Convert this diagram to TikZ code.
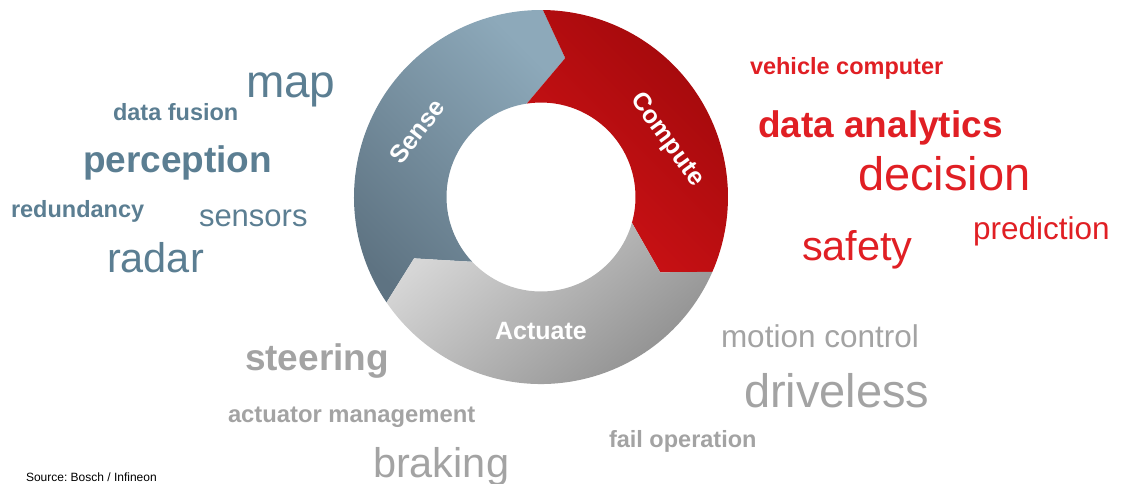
\documentclass[tikz,border=0pt]{standalone}
\usepackage{fontspec}
\setmainfont{Liberation Sans}
\frenchspacing
\definecolor{tblue}{HTML}{5B7E92}
\definecolor{tred}{HTML}{E01F24}
\definecolor{tgray}{HTML}{A3A3A3}
\definecolor{sensedark}{HTML}{5E7382}
\definecolor{senselight}{HTML}{8DA9BA}
\definecolor{compbright}{HTML}{D01216}
\definecolor{compdark}{HTML}{A0090B}
\definecolor{actlight}{HTML}{D6D6D6}
\definecolor{actdark}{HTML}{8A8A8A}
\begin{document}
\begin{tikzpicture}[x=1pt,y=1pt,
  word/.style={anchor=base west, inner sep=0pt, outer sep=0pt},
  rsz/.style={font=\fontsize{#1}{#1}\selectfont},
  bsz/.style={font=\fontsize{#1}{#1}\selectfont\bfseries},
  bw/.style={word, text=tblue},
  rw/.style={word, text=tred},
  gw/.style={word, text=tgray},
  ringlabel/.style={text=white, inner sep=0pt, font=\fontsize{25}{25}\selectfont\bfseries}]
\useasboundingbox (0,0) rectangle (1125,-484);

\begin{scope}[shift={(541,-197)}]
  % Sense
  \path[left color=sensedark, right color=senselight, shading angle=135]
    (214.3:187pt) arc[start angle=214.3, end angle=89.4, radius=187pt]
    -- (80.1:141pt) -- (98.6:94.5pt)
    arc[start angle=98.6, end angle=223.3, radius=94.5pt]
    -- (205.8:141pt) -- cycle;
  % Compute
  \path[left color=compbright, right color=compdark, shading angle=135]
    (89.4:187pt) arc[start angle=89.4, end angle=-23.6, radius=187pt]
    -- (-32.3:141pt) -- (-15.8:94.5pt)
    arc[start angle=-15.8, end angle=98.6, radius=94.5pt]
    -- (80.1:141pt) -- cycle;
  % Actuate
  \path[left color=actlight, right color=actdark, shading angle=40]
    (-23.6:187pt) arc[start angle=-23.6, end angle=-145.7, radius=187pt]
    -- (-154.2:141pt) -- (-136.7:94.5pt)
    arc[start angle=-136.7, end angle=-15.8, radius=94.5pt]
    -- (-32.3:141pt) -- cycle;
\end{scope}

\node[ringlabel, rotate=52] (sense) at (417,-131) {Sense};
\node[ringlabel, rotate=-54] (compute) at (667,-140) {Compute};
\node[ringlabel] (actuate) at (541,-331.5) {Actuate};

% Sense words
\node[bw, rsz=46] (map) at (246,-98) {map};
\node[bw, bsz=23.5] (fusion) at (113,-121) {data fusion};
\node[bw, bsz=37] (perception) at (83,-173) {perception};
\node[bw, bsz=23.5] (redundancy) at (11,-217) {redundancy};
\node[bw, rsz=31] (sensors) at (199,-226) {sensors};
\node[bw, rsz=41.5] (radar) at (107,-272) {radar};

% Compute words
\node[rw, bsz=23.5] (vehicle) at (750,-75) {vehicle computer};
\node[rw, bsz=37] (analytics) at (758,-138) {data analytics};
\node[rw, rsz=47] (decision) at (858,-190) {decision};
\node[rw, rsz=31.5] (prediction) at (973,-240) {prediction};
\node[rw, rsz=41.5] (safety) at (802,-260) {safety};

% Actuate words
\node[gw, rsz=31.5] (motion) at (721,-347) {motion control};
\node[gw, rsz=47] (driveless) at (744,-407) {driveless};
\node[gw, bsz=23.5] (failop) at (609,-447) {fail operation};
\node[gw, bsz=37] (steering) at (245,-370) {steering};
\node[gw, bsz=23.8] (actman) at (228,-422) {actuator management};
\node[gw, rsz=41.5] (braking) at (373,-477) {braking};

\node[word, text=black, rsz=12] (source) at (26,-481) {Source: Bosch / Infineon};
\end{tikzpicture}
\end{document}
